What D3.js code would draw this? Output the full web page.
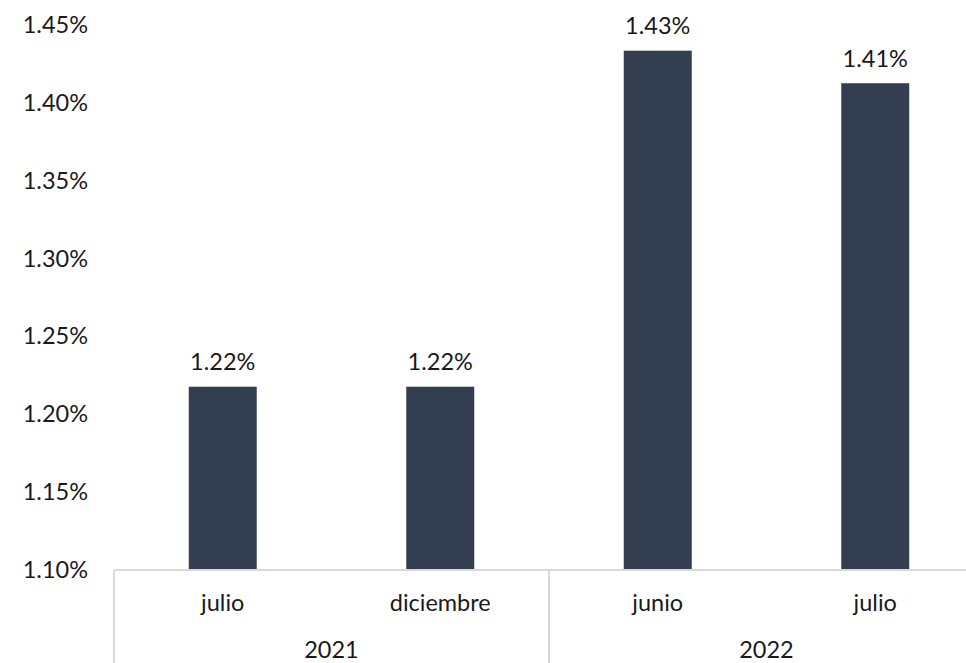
<!DOCTYPE html>
<html><head><meta charset="utf-8">
<script src="https://cdn.jsdelivr.net/npm/d3@7"></script>
<style>body{margin:0;background:#fff}svg{display:block}text{font-family:Lato,"Open Sans",sans-serif;fill:#1a1a1a}</style>
</head><body>
<svg id="c" width="966" height="663"></svg>
<script>
const months = ["julio","diciembre","junio","julio"];
const years = ["2021","2021","2022","2022"];
const values = [1.2177, 1.2177, 1.4335, 1.4126];
const yTicks = [1.10,1.15,1.20,1.25,1.30,1.35,1.40,1.45];

const svg = d3.select("#c");
const left = 114, step = 217.5, n = months.length;
const x = d3.scaleBand().domain(d3.range(n)).range([left, left + step*n]).paddingInner(0.6874).paddingOuter(0.3437);
const y = d3.scaleLinear().domain([1.10,1.45]).range([570,25]);
const fs = 23.5;

// y labels
svg.append("g").selectAll("text").data(yTicks).join("text")
  .attr("x", 88).attr("y", d=>y(d)+8)
  .attr("text-anchor","end").attr("font-size",fs)
  .text(d=>d3.format(".2f")(d)+"%");

// bars
svg.append("g").selectAll("rect").data(values).join("rect")
  .attr("x",(d,i)=>x(i)).attr("width",x.bandwidth())
  .attr("y",d=>y(d)).attr("height",d=>y(1.10)-y(d))
  .attr("fill","#333f50");

// data labels
svg.append("g").selectAll("text").data(values).join("text")
  .attr("x",(d,i)=>x(i)+x.bandwidth()/2).attr("y",d=>y(d)-16.5)
  .attr("text-anchor","middle").attr("font-size",fs)
  .text(d=>d3.format(".2f")(d)+"%");

// axis box lines
const ax = svg.append("g").attr("stroke","#d9d9d9").attr("stroke-width",2);
ax.append("line").attr("x1",left).attr("x2",left+step*n).attr("y1",570).attr("y2",570);
const groups = [];
years.forEach((yr,i)=>{ if(!groups.length||groups[groups.length-1].yr!==yr) groups.push({yr,start:i,end:i}); else groups[groups.length-1].end=i; });
groups.forEach(g=>{
  const gx = left + step*g.start;
  ax.append("line").attr("x1",gx).attr("x2",gx).attr("y1",570).attr("y2",663);
});
// month labels
svg.append("g").selectAll("text").data(months).join("text")
  .attr("x",(d,i)=>x(i)+x.bandwidth()/2).attr("y",611)
  .attr("text-anchor","middle").attr("font-size",fs).text(d=>d);
// year labels
svg.append("g").selectAll("text").data(groups).join("text")
  .attr("x",g=>left+step*(g.start+g.end+1)/2).attr("y",658)
  .attr("text-anchor","middle").attr("font-size",fs).text(g=>g.yr);
</script>
</body></html>
